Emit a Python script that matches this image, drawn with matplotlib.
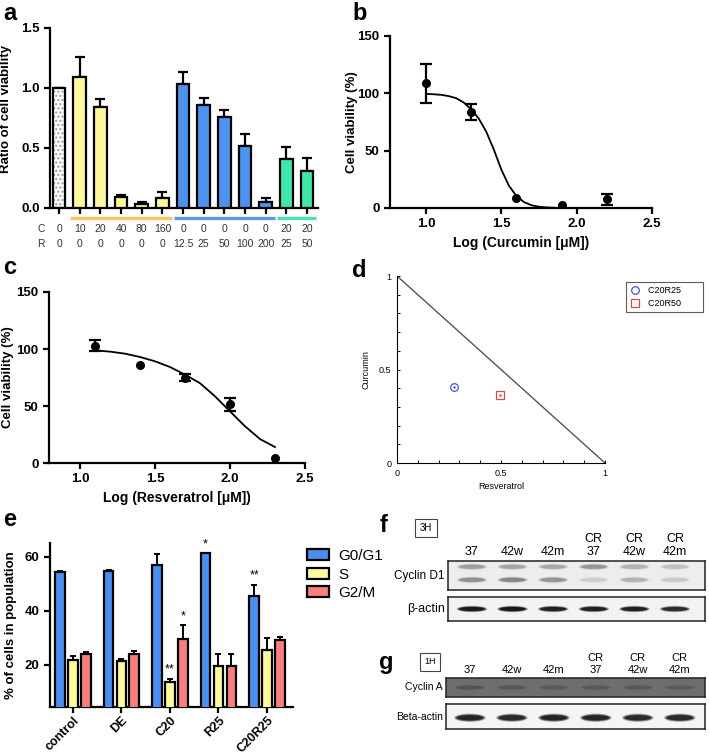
import numpy as np
import matplotlib
matplotlib.use("Agg")
import matplotlib.pyplot as plt
import matplotlib.transforms as mtransforms
from matplotlib.patches import Ellipse

plt.rcParams['font.family'] = ['Liberation Sans', 'DejaVu Sans']

# ---- panel a: viability ratio ----
a_conc_c = ["0", "10", "20", "40", "80", "160", "0", "0", "0", "0", "0", "20", "20"]
a_conc_r = ["0", "0", "0", "0", "0", "0", "12.5", "25", "50", "100", "200", "25", "50"]
a_vals = [1.00, 1.09, 0.84, 0.09, 0.03, 0.08, 1.03, 0.86, 0.76, 0.52, 0.05, 0.41, 0.31]
a_err = [0.00, 0.17, 0.07, 0.02, 0.02, 0.05, 0.10, 0.06, 0.06, 0.095, 0.03, 0.10, 0.11]
a_group = [0, 1, 1, 1, 1, 1, 2, 2, 2, 2, 2, 3, 3]

# ---- panel b: curcumin dose response ----
b_x = [1.0, 1.3, 1.6, 1.9, 2.2]
b_y = [109, 84, 9, 2.3, 7.5]
b_err = [17, 7, 0, 0, 5]
b_fit_x = [1.0, 1.05, 1.1, 1.15, 1.2, 1.25, 1.3, 1.35, 1.4, 1.45, 1.5, 1.55, 1.6, 1.65, 1.7, 1.75, 1.8, 1.85]
b_fit_y = [99.5, 99.2, 98.7, 97.6, 95.8, 92.0, 86.0, 78.0, 66.5, 51.0, 33.5, 19.5, 10.5, 5.2, 2.4, 1.1, 0.5, 0.2]

# ---- panel c: resveratrol dose response ----
c_x = [1.1, 1.4, 1.7, 2.0, 2.3]
c_y = [103, 86, 75, 51.5, 4]
c_err = [5, 0, 3.5, 5.5, 0]
c_fit_x = [1.1, 1.2, 1.3, 1.4, 1.5, 1.6, 1.7, 1.8, 1.9, 2.0, 2.1, 2.2, 2.3]
c_fit_y = [98.8, 97.7, 95.9, 93.0, 89.2, 84.2, 77.5, 70.0, 58.5, 45.3, 32.2, 21.0, 14.0]

# ---- panel d: isobologram ----
d_labels = ["C20R25", "C20R50"]
d_resv = [0.274, 0.494]
d_curc = [0.408, 0.365]

# ---- panel e: cell cycle ----
e_groups = ["control", "DE", "C20", "R25", "C20R25"]
e_series = ["G0/G1", "S", "G2/M"]
e_vals = [[54.2, 54.6, 56.7, 61.2, 45.3],
          [22.0, 21.5, 13.7, 19.5, 25.6],
          [23.9, 24.0, 29.6, 19.5, 29.1]]
e_err = [[0.3, 0.3, 4.3, 0.0, 4.2],
         [1.4, 0.8, 1.1, 4.6, 4.2],
         [0.8, 1.0, 5.0, 4.6, 1.3]]
e_stars = [(2, 1, "**"), (2, 2, "*"), (3, 0, "*"), (4, 0, "**")]

# ---- panels f, g: western blots (relative band darkness) ----
f_lanes = ["37", "42w", "42m", "CR\n37", "CR\n42w", "CR\n42m"]
f_d1_upper = [0.35, 0.32, 0.30, 0.40, 0.25, 0.18]
f_d1_lower = [0.45, 0.50, 0.42, 0.12, 0.25, 0.15]
f_actin = [0.95, 1.00, 0.92, 0.90, 0.90, 0.80]
g_lanes = ["37", "42w", "42m", "CR\n37", "CR\n42w", "CR\n42m"]
g_cyca = [0.35, 0.30, 0.25, 0.28, 0.30, 0.22]
g_actin = [0.95, 0.90, 0.95, 0.95, 0.88, 0.90]

W, H = 709, 755
fig = plt.figure(figsize=(W / 100, H / 100), dpi=100)


def rect(l, t, r, b):
    return [l / W, 1 - b / H, (r - l) / W, (b - t) / H]


def prism_style(ax, lw=1.6, size=9.5):
    for s in ["top", "right"]:
        ax.spines[s].set_visible(False)
    for s in ["left", "bottom"]:
        ax.spines[s].set_linewidth(lw)
    ax.tick_params(direction="out", length=4, width=lw, labelsize=size)
    for lab in ax.get_xticklabels() + ax.get_yticklabels():
        lab.set_fontweight("bold")


BOLD = dict(fontweight="bold")

# panel letters
for letter, (px, py) in zip("abcdefg", [(3, 14), (352, 14), (3, 268), (352, 270), (3, 520), (380, 526), (379, 662)]):
    fig.text(px / W, 1 - py / H, letter, fontsize=17, fontweight="bold", va="center", ha="left")

# ================= a =================
ax = fig.add_axes(rect(50, 28, 318, 208))
x = np.arange(len(a_vals))
grp_colors = ["white", "#FDF89C", "#4D93EE", "#3DE8A8"]
cols = [grp_colors[g] for g in a_group]
ax.bar(x[:1], a_vals[:1], width=0.62, color="white", edgecolor="#999999", hatch="....", lw=0, zorder=2)
ax.bar(x, a_vals, width=0.62, color=[c if i else "none" for i, c in enumerate(cols)],
       edgecolor="black", lw=1.6, zorder=3)
ax.errorbar(x, a_vals, yerr=[np.zeros(len(a_err)), a_err], fmt="none", ecolor="black",
            elinewidth=1.6, capsize=3.5, capthick=1.6, zorder=1)
ax.set_xlim(-0.44, 12.53)
ax.set_ylim(0, 1.5)
ax.set_yticks([0, 0.5, 1.0, 1.5])
ax.set_yticklabels(["0.0", "0.5", "1.0", "1.5"])
ax.set_xticks(x)
ax.set_xticklabels([])
ax.set_ylabel("Ratio of cell viability", fontsize=9.5, **BOLD)
ax.yaxis.set_label_coords(-0.142, 0.55)
prism_style(ax)
tr = mtransforms.blended_transform_factory(ax.transData, fig.transFigure)
line_cols = {1: "#F6C85E", 2: "#5A9BE8", 3: "#47E3B0"}
for g, c in line_cols.items():
    idx = [i for i, gg in enumerate(a_group) if gg == g]
    ax.plot([idx[0] - 0.45, min(idx[-1] + 0.45, 12.5)], [1 - 218 / H] * 2, color=c, lw=2.4,
            transform=tr, clip_on=False, solid_capstyle="butt")
fig.text(41 / W, 1 - 229 / H, "C", fontsize=7.5, ha="center", va="center", color="#333333")
fig.text(41 / W, 1 - 244 / H, "R", fontsize=7.5, ha="center", va="center", color="#333333")
for i in x:
    ax.text(i, 1 - 229 / H, a_conc_c[i], transform=tr, fontsize=7.5, ha="center", va="center", color="#333333")
    ax.text(i, 1 - 244 / H, a_conc_r[i], transform=tr, fontsize=7.5, ha="center", va="center", color="#333333")

# ================= b & c =================
def dose_panel(box, xs, ys, errs, fx, fy, xlo, xlabel, ylab_x):
    ax = fig.add_axes(rect(*box))
    xs, ys, errs = np.array(xs), np.array(ys), np.array(errs)
    m = errs > 0
    ax.errorbar(xs[m], ys[m], yerr=errs[m], fmt="none", ecolor="black", elinewidth=1.6,
                capsize=4, capthick=1.6, zorder=3)
    ax.plot(xs, ys, "o", color="black", ms=5.5, zorder=4)
    ax.plot(fx, fy, color="black", lw=1.3, zorder=2)
    ax.set_xlim(xlo, 2.5)
    ax.set_ylim(0, 150)
    ax.set_xticks([1.0, 1.5, 2.0, 2.5])
    ax.set_xticklabels(["1.0", "1.5", "2.0", "2.5"])
    ax.set_yticks([0, 50, 100, 150])
    ax.set_ylabel("Cell viability (%)", fontsize=9.5, **BOLD)
    ax.yaxis.set_label_coords(ylab_x, 0.5)
    ax.set_xlabel(xlabel, fontsize=10, labelpad=4, **BOLD)
    prism_style(ax)
    return ax


dose_panel((390, 36, 652, 208), b_x, b_y, b_err, b_fit_x, b_fit_y, 0.761, "Log (Curcumin [\u03bcM])", -0.122)
dose_panel((49, 292, 305, 463), c_x, c_y, c_err, c_fit_x, c_fit_y, 0.793, "Log (Resveratrol [\u03bcM])", -0.135)

# ================= d =================
ax = fig.add_axes(rect(397, 276, 605, 463))
ax.plot([0, 1], [1, 0], color="#555555", lw=1.0)
ax.plot(d_resv[0], d_curc[0], "o", mfc="none", mec="#4A52D6", ms=5.5, mew=0.9, label=d_labels[0])
ax.plot(d_resv[1], d_curc[1], "s", mfc="none", mec="#D9484A", ms=5.5, mew=0.9, label=d_labels[1])
ax.plot(d_resv[0], d_curc[0], ".", color="#4A52D6", ms=1.5)
ax.plot(d_resv[1], d_curc[1], ".", color="#D9484A", ms=1.5)
ax.set_xlim(0, 1)
ax.set_ylim(0, 1)
ticks = np.round(np.arange(0, 1.01, 0.1), 1)
tlabs = ["0" if t == 0 else ("0.5" if t == 0.5 else ("1" if t == 1 else "")) for t in ticks]
ax.set_xticks(ticks)
ax.set_xticklabels(tlabs)
ax.set_yticks(ticks)
ax.set_yticklabels(tlabs)
for s in ["top", "right"]:
    ax.spines[s].set_visible(False)
for s in ["left", "bottom"]:
    ax.spines[s].set_linewidth(0.8)
ax.tick_params(direction="in", length=2.5, width=0.7, labelsize=6.5, pad=4)
ax.set_xlabel("Resveratrol", fontsize=6.5, labelpad=3)
ax.set_ylabel("Curcumin", fontsize=6.5, labelpad=6)
leg = ax.legend(loc="upper left", bbox_to_anchor=(626 / W, 1 - 282 / H), bbox_transform=fig.transFigure,
                fontsize=6.5, frameon=True, fancybox=False, handlelength=1.0, borderpad=0.45,
                handletextpad=1.0, labelspacing=0.45, borderaxespad=0)
leg.get_frame().set_edgecolor("#333333")
leg.get_frame().set_linewidth(0.8)
for t in leg.get_texts():
    t.set_text(t.get_text() + "       ")

# ================= e =================
ax = fig.add_axes(rect(50, 543, 293, 707))
gx = np.arange(len(e_groups))
e_cols = ["#4A8FF0", "#FDFA9C", "#F77F7F"]
offs = [-0.265, 0.0, 0.265]
for k in range(3):
    ax.bar(gx + offs[k], e_vals[k], width=0.2, color=e_cols[k], edgecolor="black", lw=1.6,
           zorder=3, label=e_series[k])
    ax.errorbar(gx + offs[k], e_vals[k], yerr=[np.zeros(5), e_err[k]], fmt="none", ecolor="black",
                elinewidth=1.4, capsize=2.5, capthick=1.4, zorder=2)
for gi, si, s in e_stars:
    top = e_vals[si][gi] + e_err[si][gi]
    ax.text(gi + offs[si], top + 1.2, s, ha="center", va="bottom", fontsize=9)
ax.set_xlim(-0.474, 4.536)
ax.set_ylim(4.5, 65)
ax.set_yticks([20, 40, 60])
ax.set_xticks(gx)
ax.set_xticklabels(e_groups, rotation=45, ha="right", rotation_mode="anchor", fontweight="bold")
ax.set_ylabel("% of cells in population", fontsize=9.5, **BOLD)
ax.yaxis.set_label_coords(-0.135, 0.5)
prism_style(ax, size=9.5)
ax.tick_params(axis="x", labelsize=9, pad=1.5)
ax.legend(loc="upper left", bbox_to_anchor=(307 / W, 1 - 549 / H), bbox_transform=fig.transFigure,
          frameon=False, fontsize=11, handlelength=1.45, handleheight=0.75, labelspacing=0.3,
          borderaxespad=0, borderpad=0, handletextpad=0.6)

# ================= f & g (blots) =================
def strip(box, lo, hi, bg, bands, ys, hgt, dark, name, name_size=8.5, bw=0.72):
    ax = fig.add_axes(rect(*box))
    ax.set_facecolor(bg)
    ax.set_xlim(lo, hi)
    ax.set_ylim(0, 1)
    ax.set_xticks([])
    ax.set_yticks([])
    for s in ax.spines.values():
        s.set_linewidth(1.1)
        s.set_color("#222222")
    for vals, yc in zip(bands, ys):
        for i, v in enumerate(vals):
            for scale, alpha in [(1.12, 0.3), (0.92, 0.55), (0.7, 0.9)]:
                ax.add_patch(Ellipse((i, yc), bw * (0.6 + 0.4 * scale), hgt * scale, color=dark,
                                     alpha=alpha * v, lw=0))
    ax.text(-0.012, 0.5, name, transform=ax.transAxes, ha="right", va="center", fontsize=name_size)
    return ax


axd1 = strip((448, 561, 705, 590), -0.59, 5.74, "#ededed", [f_d1_upper, f_d1_lower], [0.8, 0.35], 0.2,
             "#555555", "Cyclin D1")
axd1.set_xticks(range(6))
axd1.set_xticklabels(f_lanes, fontsize=9, linespacing=1.15)
axd1.xaxis.set_ticks_position("top")
axd1.tick_params(axis="x", length=0, pad=2)
strip((448, 597, 705, 621), -0.59, 5.74, "#f2f2f2", [f_actin], [0.5], 0.24, "#111111", "\u03b2-actin", 9)
fig.text(426 / W, 1 - 528 / H, "3H", fontsize=7, ha="center", va="center",
         bbox=dict(boxstyle="square,pad=0.45", fc="white", ec="#444444", lw=0.8))

axca = strip((446, 678, 705, 697), -0.57, 5.6, "#6e6e6e", [g_cyca], [0.5], 0.26, "#3a3a3a", "Cyclin A", 7.5)
axca.set_xticks(range(6))
axca.set_xticklabels(g_lanes, fontsize=8, linespacing=1.3)
axca.xaxis.set_ticks_position("top")
axca.tick_params(axis="x", length=0, pad=2)
strip((446, 704, 705, 729), -0.57, 5.6, "#f4f4f4", [g_actin], [0.45], 0.3, "#1a1a1a", "Beta-actin", 7.5)
fig.text(430 / W, 1 - 662 / H, "1H", fontsize=6.5, ha="center", va="center",
         bbox=dict(boxstyle="square,pad=0.45", fc="white", ec="#444444", lw=0.8))

fig.savefig("out.png", dpi=100)
